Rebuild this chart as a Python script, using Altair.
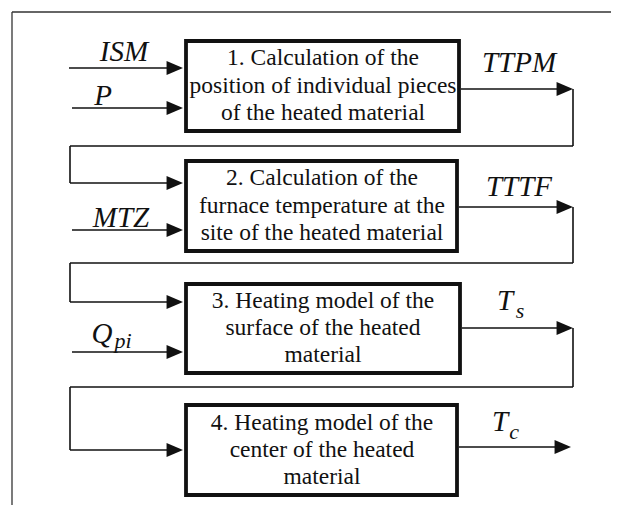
import altair as alt
import pandas as pd

# ---- diagram content (coordinates in diagram units: reference pixels) ----
box_left = [186, 186, 186, 186]
box_right = [459, 457, 460, 457]
box_top = [41, 161, 284, 405]
box_bottom = [131, 251, 373, 495]

box_text = [
    ["1. Calculation of the", "position of individual pieces", "of the heated material"],
    ["2. Calculation of the", "furnace temperature at the", "site of the heated material"],
    ["3. Heating model of the", "surface of the heated", "material"],
    ["4. Heating model of the", "center of the heated", "material"],
]
box_text_x = [323, 322, 323, 322]
box_text_y = [
    [58, 86, 113],
    [178, 206, 233],
    [301, 328, 355],
    [423, 450, 477],
]

# connector segments
seg_x1 = [69, 72, 461, 573, 573, 70, 70, 72, 459, 573, 573, 70, 70, 72, 462, 573, 573, 70, 70, 459]
seg_y1 = [68, 108, 89, 89, 146, 146, 183, 230, 207, 207, 263, 263, 302, 352, 328, 328, 387, 387, 450, 447]
seg_x2 = [176, 176, 566, 573, 70, 70, 176, 176, 566, 573, 70, 70, 176, 176, 566, 573, 70, 70, 176, 564]
seg_y2 = [68, 108, 89, 146, 146, 183, 183, 230, 207, 263, 263, 302, 302, 352, 328, 387, 387, 450, 450, 447]

# arrow heads (tip positions)
head_x = [183, 183, 573, 183, 183, 573, 183, 183, 573, 183, 571]
head_y = [68, 108, 89, 183, 230, 207, 302, 352, 328, 450, 447]

# frame (top and left border of the figure)
frame_x1 = [12, 12]
frame_y1 = [12, 12]
frame_x2 = [611, 12]
frame_y2 = [12, 505]

# variable labels
label_text = ["ISM", "P", "MTZ", "Q", "TTPM", "TTTF", "T", "T"]
label_x = [124, 103, 121, 102, 519, 519, 505, 500]
label_y = [52, 96, 218, 334, 63, 187, 301, 422]
sub_text = ["pi", "s", "c"]
sub_x = [123, 520, 514]
sub_y = [341, 311, 432]

SERIF = "'Liberation Serif', 'Times New Roman', 'DejaVu Serif', serif"

# ---- tables ----
boxes = pd.DataFrame({"x": box_left, "x2": box_right, "y": box_top, "y2": box_bottom})
rows = []
for i, lines in enumerate(box_text):
    for j, t in enumerate(lines):
        rows.append({"x": box_text_x[i], "y": box_text_y[i][j], "t": t})
texts = pd.DataFrame(rows)
segs = pd.DataFrame({"x": seg_x1, "y": seg_y1, "x2": seg_x2, "y2": seg_y2})
heads = pd.DataFrame({"x": head_x, "y": head_y})
frame = pd.DataFrame({"x": frame_x1, "y": frame_y1, "x2": frame_x2, "y2": frame_y2})
labels = pd.DataFrame({"x": label_x, "y": label_y, "t": label_text})
subs = pd.DataFrame({"x": sub_x, "y": sub_y, "t": sub_text})

xs = alt.Scale(domain=[8, 611], nice=False, zero=False)
ys = alt.Scale(domain=[8, 505], nice=False, zero=False, reverse=True)
X = alt.X("x:Q", scale=xs, axis=None)
Y = alt.Y("y:Q", scale=ys, axis=None)

frame_layer = alt.Chart(frame).mark_rule(color="#333333", strokeWidth=1.3).encode(
    x=X, y=Y, x2="x2:Q", y2="y2:Q")
seg_layer = alt.Chart(segs).mark_rule(color="#111111", strokeWidth=1.6).encode(
    x=X, y=Y, x2="x2:Q", y2="y2:Q")
box_layer = alt.Chart(boxes).mark_rect(fill="white", stroke="#111111", strokeWidth=3.8).encode(
    x=X, y=Y, x2="x2:Q", y2="y2:Q")
text_layer = alt.Chart(texts).mark_text(
    font=SERIF, fontSize=23.5, align="center", baseline="middle", color="#111111"
).encode(x=X, y=Y, text="t:N")
head_layer = alt.Chart(heads).mark_point(
    shape="M0,0L-2,-0.85L-2,0.85Z", filled=True, size=270, color="#111111",
    opacity=1, strokeWidth=0
).encode(x=X, y=Y)
label_layer = alt.Chart(labels).mark_text(
    font=SERIF, fontSize=29, fontStyle="italic", align="center",
    baseline="middle", color="#111111"
).encode(x=X, y=Y, text="t:N")
sub_layer = alt.Chart(subs).mark_text(
    font=SERIF, fontSize=22, fontStyle="italic", align="center",
    baseline="middle", color="#111111"
).encode(x=X, y=Y, text="t:N")

chart = alt.layer(
    frame_layer, seg_layer, box_layer, text_layer, head_layer, label_layer, sub_layer
).properties(
    width=603, height=497, padding=0,
    autosize=alt.AutoSizeParams(type="none"),
    background="white",
).configure_view(strokeWidth=0)

chart.save("out.html", embed_options={"renderer": "svg", "actions": False})
